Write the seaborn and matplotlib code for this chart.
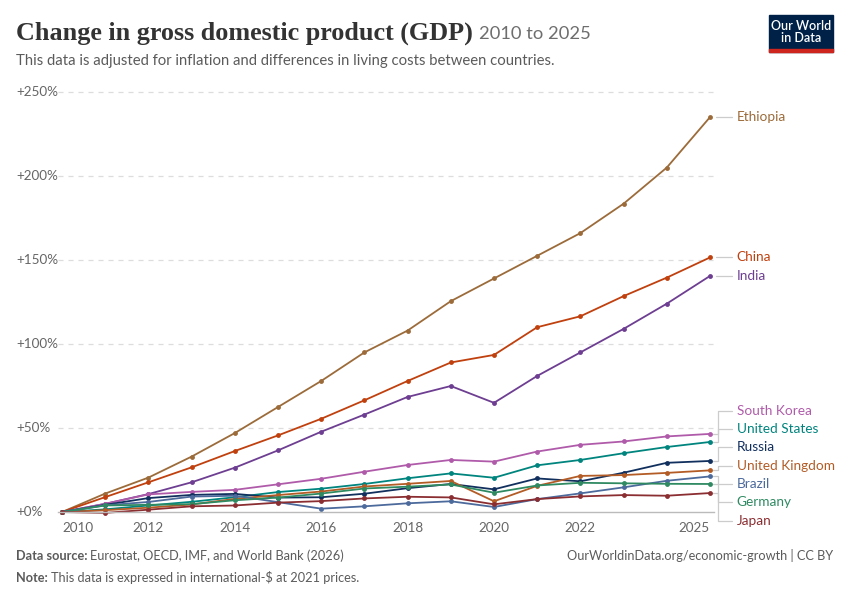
import matplotlib
matplotlib.use("Agg")
import matplotlib.pyplot as plt
import matplotlib.patches as mpatches
import matplotlib.transforms as mtransforms
import seaborn as sns
import pandas as pd

years = list(range(2010, 2026))

ethiopia = [0, 11, 20.5, 33, 47, 62.5, 78, 95, 108, 125.5, 139, 152.5, 166, 183.5, 205, 235]
china = [0, 8.9, 17.7, 26.6, 36.3, 45.6, 55.5, 66.5, 78, 89, 93.5, 110, 116.5, 128.5, 139.5, 151.5]
india = [0, 4.9, 10.7, 17.7, 26.4, 36.7, 47.8, 58, 68.5, 75, 65, 81, 95, 109, 124, 140.5]
south_korea = [0, 4.9, 10.5, 12, 13.2, 16.5, 19.8, 24, 28, 31, 30, 36, 40, 42, 45, 46.5]
united_states = [0, 1.6, 3.9, 6.1, 8.8, 11.9, 13.9, 16.7, 20.1, 23, 20.4, 27.8, 31, 35, 38.7, 41.7]
russia = [0, 4.3, 8.3, 10.2, 10.8, 8.6, 8.8, 10.9, 14.2, 16.7, 13.5, 20, 18.3, 23.4, 29.3, 30.4]
united_kingdom = [0, 1.1, 2.6, 4.5, 7.8, 10.1, 12.2, 15.2, 16.8, 18.5, 6.4, 15.6, 21.5, 22, 23.3, 24.8]
brazil = [0, 4.0, 6.0, 9.2, 9.7, 5.9, 2.0, 3.4, 5.2, 6.4, 3.0, 7.7, 11.1, 14.7, 18.6, 21.2]
germany = [0, 3.9, 4.3, 4.7, 7.0, 8.6, 11.0, 14.0, 15.1, 16.4, 11.5, 15.8, 17.4, 17.1, 16.8, 16.7]
japan = [0, -0.5, 1.4, 3.4, 3.9, 5.6, 6.5, 8.1, 9.1, 8.7, 4.6, 7.7, 9.3, 10.1, 9.7, 11.3]

countries = ["Ethiopia", "China", "India", "South Korea", "United States",
             "Russia", "United Kingdom", "Brazil", "Germany", "Japan"]
series = [ethiopia, china, india, south_korea, united_states,
          russia, united_kingdom, brazil, germany, japan]
colors = ["#9C6B3A", "#C0400E", "#6D3E91", "#B05BAA", "#00847E",
          "#12305E", "#B35C26", "#4C6A9C", "#2F8A62", "#8B2E32"]
palette = dict(zip(countries, colors))

y_ticks = [0, 50, 100, 150, 200, 250]
x_ticks = [2010, 2012, 2014, 2016, 2018, 2020, 2022, 2025]

df = pd.DataFrame([
    {"country": c, "year": y, "change": v}
    for c, vals in zip(countries, series)
    for y, v in zip(years, vals)
])

sns.set_style("white")
plt.rcParams["font.family"] = ["Lato", "DejaVu Sans"]

W, H = 850, 600
fig = plt.figure(figsize=(8.5, 6), dpi=100)
fig.patch.set_facecolor("white")


def fx(px):
    return px / W


def fy(py):
    return 1 - py / H


# axes box in pixels: x 57.7..714.3, y 88.6..515.4
ax = fig.add_axes([fx(57.7), fy(515.4), fx(714.3 - 57.7), (515.4 - 88.6) / H])
ax.set_xlim(2009.9, 2025.1)
ax.set_ylim(-2, 252)

for v in y_ticks[1:]:
    ax.axhline(v, color="#dddddd", lw=0.9, ls=(0, (4, 4)), zorder=0)

sns.lineplot(data=df, x="year", y="change", hue="country", palette=palette,
             hue_order=countries, marker="o", markersize=3.5, markeredgewidth=0,
             linewidth=1.3, legend=False, ax=ax, clip_on=False)

for s in ["top", "right", "left"]:
    ax.spines[s].set_visible(False)
ax.spines["bottom"].set_position(("data", 0))
ax.spines["bottom"].set_color("#bbbbbb")
ax.spines["bottom"].set_linewidth(1)

ax.set_xticks(x_ticks)
ax.set_xticklabels([str(t) for t in x_ticks])
ax.tick_params(axis="x", length=5, width=0.9, color="#bbbbbb", labelsize=9.7,
               labelcolor="#666666", pad=2)
xt = ax.get_xticklabels()
xt[0].set_ha("left")
xt[-1].set_ha("right")
ax.set_yticks([])
ax.set_xlabel("")
ax.set_ylabel("")

# y tick labels, left aligned at the page margin
trans = mtransforms.blended_transform_factory(fig.transFigure, ax.transData)
for v in y_ticks:
    lab = "+0%" if v == 0 else f"+{v}%"
    ax.text(fx(16), v, lab, transform=trans, ha="left", va="center",
            fontsize=9.7, color="#666666")


# label placement: spread end labels so they don't overlap
def spread(targets, gap):
    order = sorted(range(len(targets)), key=lambda i: -targets[i])
    blocks = []
    for i in order:
        blocks.append([i])
        while len(blocks) > 1:
            a, b = blocks[-2], blocks[-1]
            ca = sum(targets[k] for k in a) / len(a)
            cb = sum(targets[k] for k in b) / len(b)
            bottom_a = ca - (len(a) - 1) * gap / 2
            top_b = cb + (len(b) - 1) * gap / 2
            if bottom_a - top_b < gap:
                blocks[-2:] = [a + b]
            else:
                break
    pos = {}
    for blk in blocks:
        c = sum(targets[k] for k in blk) / len(blk)
        top = c + (len(blk) - 1) * gap / 2
        for j, k in enumerate(blk):
            pos[k] = top - j * gap
    return [pos[i] for i in range(len(targets))]


ends = [s[-1] for s in series]
label_y = spread(ends, 10.9)

x_end = 2025.08
x_elbow = 2025.19
x_line_end = 2025.5
x_text = 2025.62
for name, col, yv, ly in zip(countries, colors, ends, label_y):
    if abs(ly - yv) < 0.5:
        ax.plot([x_end + 0.05, x_line_end], [yv, yv], color="#cccccc", lw=0.9,
                clip_on=False, zorder=1)
    else:
        ax.plot([x_end, x_elbow, x_elbow, x_line_end], [yv, yv, ly, ly],
                color="#cccccc", lw=0.9, clip_on=False, zorder=1)
    ax.text(x_text, ly, name, color=col, fontsize=9.8, ha="left", va="center")

# header
t = fig.text(fx(16), fy(33), "Change in gross domestic product (GDP)",
             family="Liberation Serif", weight="bold", fontsize=18.8,
             color="#333333", ha="left", va="center")
fig.canvas.draw()
bb = t.get_window_extent()
fig.text(bb.x1 / W + fx(6), fy(34), "2010 to 2025", fontsize=13.2,
         color="#6e6e6e", ha="left", va="center")
fig.text(fx(16), fy(61), "This data is adjusted for inflation and differences in "
         "living costs between countries.", fontsize=10.7, color="#5b5b5b",
         ha="left", va="center")

# logo
fig.add_artist(mpatches.Rectangle((fx(769), fy(52)), fx(64), 37 / H,
                                  transform=fig.transFigure, color="#002147"))
fig.add_artist(mpatches.Rectangle((fx(769), fy(52)), fx(64), 3 / H,
                                  transform=fig.transFigure, color="#ce261e"))
fig.text(fx(801), fy(32.5), "Our World\nin Data", color="white", fontsize=9,
         weight="semibold", ha="center", va="center", linespacing=1.0)

# footer
src = fig.text(fx(16), fy(556), "Data source:", fontsize=9.2, color="#5b5b5b",
               weight="bold", ha="left", va="center")
note = fig.text(fx(16), fy(578), "Note:", fontsize=9.2, color="#5b5b5b",
                weight="bold", ha="left", va="center")
fig.canvas.draw()
fig.text(src.get_window_extent().x1 / W + fx(3), fy(556),
         "Eurostat, OECD, IMF, and World Bank (2026)", fontsize=9.2,
         color="#5b5b5b", ha="left", va="center")
fig.text(note.get_window_extent().x1 / W + fx(3), fy(578),
         "This data is expressed in international-$ at 2021 prices.",
         fontsize=9.2, color="#5b5b5b", ha="left", va="center")
fig.text(fx(833), fy(556), "OurWorldinData.org/economic-growth | CC BY",
         fontsize=9.2, color="#5b5b5b", ha="right", va="center")

fig.savefig("out.png", dpi=100, facecolor="white")
